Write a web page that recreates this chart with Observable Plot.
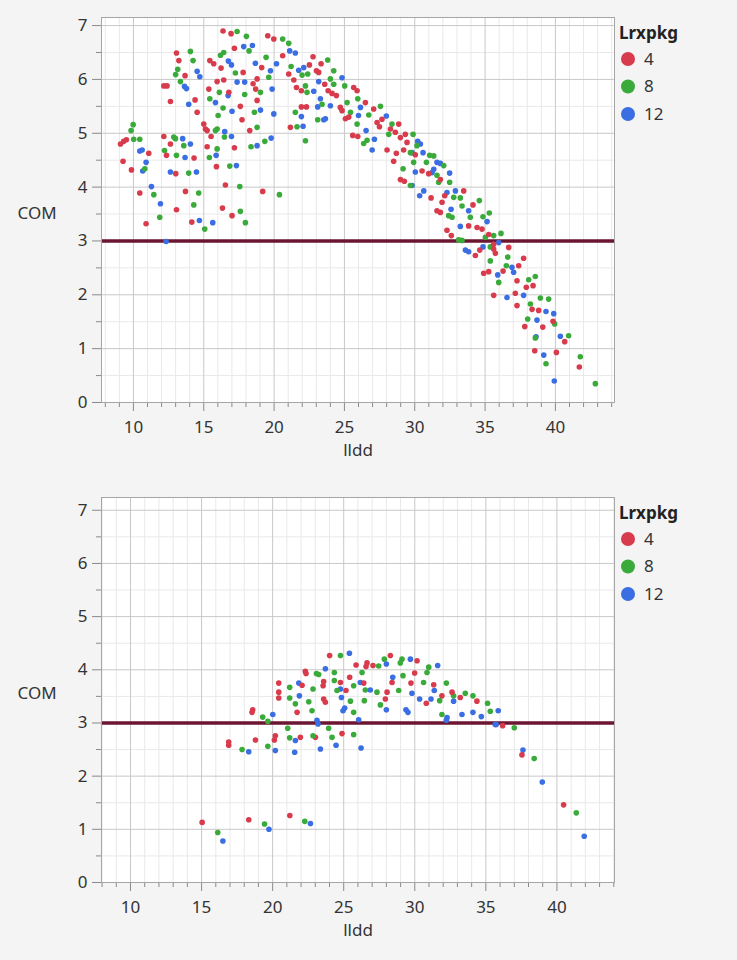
<!DOCTYPE html>
<html>
<head>
<meta charset="utf-8">
<script src="https://cdn.jsdelivr.net/npm/d3@7"></script>
<script src="https://cdn.jsdelivr.net/npm/@observablehq/plot@0.6"></script>
<style>
  html, body { margin: 0; padding: 0; background: #f4f4f4; }
  body { width: 737px; height: 960px; overflow: hidden; font-family: "Segoe UI", "Noto Sans", sans-serif; }
  .panel { position: relative; width: 737px; height: 480px; }
  .panel svg.plot { display: block; }
  .legend { position: absolute; left: 615px; top: 0; }
</style>
</head>
<body>
<div id="top" class="panel"></div>
<div id="bottom" class="panel"></div>
<script>
// ---------- categories / labels ----------
const groups = ["4", "8", "12"];
const groupColors = ["#d83b4b", "#3aab3a", "#3b6ee2"];
const legendTitle = "Lrxpkg";
const xLabel = "lldd";
const yLabel = "COM";
const xTicks = [10, 15, 20, 25, 30, 35, 40];
const yTicks = [0, 1, 2, 3, 4, 5, 6, 7];
const refLine = [3];

// ---------- top panel values: [lldd, COM] ----------
const top4 = [
[16.37,6.90],[16.94,6.85],[19.55,6.81],[19.98,6.75],[17.18,6.58],[13.06,6.49],[13.23,6.35],[15.43,6.35],[15.71,6.29],[16.23,6.21],
[13.67,6.07],[12.16,5.88],[12.39,5.88],[15.95,5.96],[16.42,5.99],[17.80,6.13],[15.36,5.82],[16.78,5.76],[18.51,5.92],[18.79,6.01],
[18.69,5.82],[19.12,6.22],[18.79,5.61],[12.63,5.59],[14.38,5.62],[14.53,5.39],[17.60,5.50],[17.72,5.25],[18.27,5.05],[15.00,5.17],
[15.12,5.08],[15.24,5.05],[15.52,4.94],[12.16,4.94],[12.63,4.80],[15.24,4.75],[17.18,4.73],[12.35,4.59],[14.31,4.54],[15.90,4.38],
[13.01,4.25],[16.54,4.04],[19.19,3.92],[13.70,3.92],[10.45,3.89],[13.06,3.58],[16.33,3.61],[17.01,3.47],[10.90,3.32],[14.15,3.35],
[9.08,4.80],[9.31,4.85],[9.50,4.88],[11.09,4.63],[9.26,4.48],[9.86,4.32],
[20.61,6.44],[22.77,6.42],[22.51,6.27],[23.34,6.29],[23.01,6.16],[23.17,6.13],[21.04,6.10],[21.40,5.99],[21.59,5.85],[21.94,5.79],
[23.60,5.91],[23.84,5.79],[24.12,5.74],[24.43,5.70],[21.94,5.49],[22.30,5.49],[21.16,5.11],[24.71,5.48],[24.83,5.42],[25.07,5.27],
[25.31,5.30],[25.66,5.85],[25.90,5.79],[26.49,5.57],[25.59,4.96],[25.95,4.94],[27.08,5.45],[27.32,5.20],[27.49,5.12],
[27.67,5.26],[28.86,5.17],[28.27,5.08],[28.62,5.02],[29.33,4.98],[28.98,4.92],[29.45,4.83],[28.03,4.69],[28.69,4.63],[29.21,4.69],
[30.04,4.60],[28.50,4.48],[30.52,4.30],[30.99,4.25],[28.98,4.14],[29.26,4.11],[31.82,4.14],[33.48,3.93],[32.13,3.84],[31.16,3.80],
[31.94,3.72],[34.14,3.67],[31.58,3.56],[31.82,3.53],[33.83,3.28],[34.43,3.25],[32.29,3.20],[32.60,3.10],[34.78,3.22],[35.26,3.12],
[35.61,2.94],[34.31,2.73],[34.62,2.83],[35.61,2.85],[36.68,2.88],[35.73,2.77],[37.74,2.68],[37.39,2.54],[36.28,2.44],[34.90,2.40],
[35.26,2.43],[37.93,2.14],[38.41,2.17],[37.27,2.26],[35.61,1.99],[37.15,2.03],[37.27,1.80],
[38.34,1.73],[38.81,1.71],[39.83,1.51],[37.82,1.41],[39.10,1.40],[40.66,1.13],[38.53,0.96],[40.07,0.93],[41.70,0.66]
];
const top8 = [
[17.37,6.89],[18.03,6.80],[18.22,6.53],[14.05,6.52],[14.24,6.35],[16.19,6.45],[16.42,6.50],[13.15,6.19],[13.00,6.09],[13.34,5.96],
[17.25,6.12],[17.91,5.72],[16.11,5.76],[19.03,5.76],[19.43,6.41],[19.62,6.04],[15.43,5.64],[16.02,5.33],[16.37,5.47],[18.60,5.39],
[18.79,5.11],[18.36,4.75],[19.34,4.85],[15.83,5.05],[15.95,5.08],[16.47,4.93],[12.87,4.93],[12.99,4.90],[13.58,4.77],[15.95,4.71],
[15.40,4.55],[12.21,4.68],[13.06,4.59],[16.85,4.39],[13.93,4.26],[17.56,4.01],[20.38,3.86],[14.64,3.89],[11.45,3.86],[14.29,3.67],
[17.60,3.55],[11.87,3.44],[17.96,3.34],[15.07,3.22],[9.83,5.05],[9.98,5.16],[10.02,4.89],[10.45,4.89],[10.81,4.34],
[20.61,6.75],[21.04,6.67],[21.21,6.24],[23.81,6.36],[22.39,6.10],[24.24,6.16],[21.99,6.08],[24.00,6.01],[22.23,5.88],[22.34,5.76],
[24.24,5.91],[25.02,5.88],[23.41,5.54],[21.51,5.39],[21.63,5.12],[23.10,5.25],[22.23,4.86],[25.19,5.57],[25.43,5.39],[25.95,5.64],
[25.90,5.17],[26.73,5.34],[27.56,5.50],[26.61,4.87],[26.37,4.81],
[28.38,5.17],[28.15,4.98],[29.88,4.98],[30.16,4.77],[29.69,4.64],[31.06,4.59],[31.35,4.58],[29.92,4.46],[30.83,4.46],[32.06,4.40],
[29.17,4.34],[31.58,4.22],[31.70,4.09],[32.48,4.09],[29.69,4.03],[32.77,3.81],[33.24,3.80],[34.59,3.75],[33.36,3.65],[32.41,3.47],
[32.65,3.44],[33.95,3.44],[34.85,3.45],[35.30,3.52],[33.12,3.02],[33.36,3.01],[35.02,3.07],[35.61,3.10],[36.13,3.14],[35.37,2.89],
[36.61,2.70],[35.37,2.63],[36.51,2.54],[38.10,2.28],[38.57,2.34],[35.97,2.23],[38.93,1.94],[39.52,1.92],[38.22,1.83],
[38.03,1.55],[39.95,1.46],[40.94,1.24],[38.57,1.20],[41.77,0.85],[39.33,0.72],[42.84,0.35]
];
const top12 = [
[17.84,6.61],[18.46,6.63],[16.75,6.34],[16.97,6.27],[14.53,6.15],[14.72,6.05],[13.63,5.87],[13.77,5.83],[17.37,5.95],[17.91,5.95],
[16.73,5.70],[18.67,6.30],[19.74,6.16],[19.86,5.82],[20.17,6.29],[13.93,5.54],[15.83,5.57],[17.01,5.41],[19.03,5.43],[19.98,5.36],
[18.79,4.77],[19.79,4.91],[16.49,5.03],[16.97,4.94],[13.50,4.90],[14.05,4.80],[15.88,4.59],[13.67,4.55],[17.32,4.40],[12.63,4.28],
[14.48,4.28],[11.28,4.01],[11.92,3.69],[14.69,3.38],[15.64,3.34],[10.45,4.67],[10.62,4.69],[10.90,4.46],[10.66,4.30],[12.32,2.99],
[21.11,6.53],[21.51,6.49],[22.11,6.22],[21.75,6.17],[24.83,6.03],[23.17,5.96],[22.82,5.78],[23.29,5.64],[23.10,5.49],[21.94,5.31],
[24.00,5.51],[22.06,5.13],[23.53,5.25],[23.65,5.27],[26.14,5.48],[26.00,5.33],[26.54,5.05],[27.13,4.89],[26.97,4.69],
[27.98,5.32],[30.21,4.85],[30.40,4.80],[29.81,4.64],[30.59,4.64],[31.58,4.46],[31.82,4.44],[30.04,4.28],[31.35,4.33],[31.23,4.27],
[32.48,4.26],[29.81,4.03],[30.64,3.93],[30.35,3.84],[32.29,3.90],[32.89,3.93],[32.58,3.59],[33.83,3.56],[35.14,3.36],[33.24,3.27],
[35.97,2.97],[33.60,2.83],[33.83,2.80],[34.85,2.89],[36.91,2.51],[37.03,2.42],[35.90,2.37],[36.56,1.95],[37.74,1.99],
[39.33,1.69],[39.88,1.65],[38.69,1.53],[38.62,1.22],[40.35,1.23],[39.17,0.88],[39.92,0.40]
];

// ---------- bottom panel values: [lldd, COM] ----------
const bot4 = [
[24.01,4.27],[22.30,3.97],[22.35,3.93],[25.87,4.09],[26.64,4.13],[27.06,4.08],[26.57,4.06],[28.28,4.27],[30.16,4.17],[29.99,3.94],
[20.43,3.75],[20.43,3.58],[20.43,3.47],[22.07,3.71],[21.72,3.20],[23.59,3.78],[23.55,3.70],[25.16,3.61],[24.77,3.76],[25.42,3.86],
[26.41,3.75],[28.05,3.58],[27.93,3.45],[28.40,3.76],[29.73,3.75],[31.33,3.72],[31.91,3.51],[32.62,3.58],[33.20,3.48],[34.37,3.41],
[30.81,3.37],[36.18,2.95],[23.59,3.45],[23.71,3.39],[18.60,3.25],[18.55,3.20],[18.79,2.68],[20.19,2.76],[20.12,2.68],[21.95,2.73],
[23.01,2.73],[24.88,2.80],[16.91,2.64],[16.91,2.58],
[15.04,1.13],[18.32,1.18],[21.21,1.26],[37.54,2.40],[40.47,1.46]
];
const bot8 = [
[24.77,4.27],[23.08,3.93],[23.24,3.91],[24.34,3.95],[26.29,3.95],[27.46,4.07],[27.86,4.20],[29.10,4.20],[28.98,4.13],[30.98,4.05],
[30.86,3.95],[21.20,3.67],[21.20,3.47],[21.60,3.36],[22.84,3.64],[24.34,3.80],[24.53,3.61],[25.70,3.70],[27.34,3.58],[26.45,3.42],
[29.17,3.89],[28.87,3.61],[30.62,3.76],[32.22,3.75],[32.73,3.51],[33.55,3.56],[34.09,3.51],[31.75,3.42],[35.12,3.37],[35.31,3.22],
[31.91,3.16],[22.54,3.40],[22.77,3.23],[25.70,3.20],[25.47,3.41],[26.52,3.62],[27.58,3.34],[19.30,3.11],[19.66,3.03],[21.06,2.90],
[23.94,2.90],[21.20,2.72],[22.84,2.76],[24.18,2.73],[25.70,2.78],[17.85,2.50],[19.66,2.56],
[16.14,0.94],[19.43,1.10],[22.26,1.15],[37.00,2.91],[38.40,2.33],[41.36,1.31]
];
const bot12 = [
[25.40,4.31],[23.71,4.02],[28.00,4.11],[29.69,4.20],[31.61,4.08],[21.84,3.75],[21.88,3.51],[24.77,3.64],[26.17,3.76],[26.87,3.62],
[28.45,3.86],[29.80,3.56],[31.37,3.61],[32.73,3.41],[30.34,3.45],[31.14,3.45],[35.87,3.23],[34.09,3.20],[33.32,3.16],[34.68,3.12],
[32.27,3.10],[32.22,3.05],[35.73,2.97],[24.95,3.23],[25.07,3.28],[24.84,3.48],[28.00,3.25],[29.38,3.25],[29.52,3.20],[20.01,3.16],
[23.12,3.05],[23.19,2.98],[26.05,3.06],[21.60,2.67],[18.32,2.46],[20.19,2.48],[21.55,2.45],[23.36,2.51],[24.46,2.58],[26.22,2.53],
[16.50,0.78],[19.74,1.00],[22.66,1.11],[35.66,2.97],[37.61,2.49],[38.97,1.89],[41.92,0.87]
];

// ---------- build rows (interleaved like a data table) ----------
function rows(series) {
  const out = [];
  const n = d3.max(series, s => s.length);
  for (let i = 0; i < n; i++) {
    series.forEach((s, k) => { if (i < s.length) out.push({lldd: s[i][0], COM: s[i][1], g: groups[k]}); });
  }
  return out;
}

function panel(id, data, xDomain, yDomain) {
  const xMinor = d3.range(8, 45).filter(v => v >= xDomain[0] && v <= xDomain[1] && !xTicks.includes(v));
  const yMinor = d3.range(0.5, 7.5, 1);
  const tickColor = "#8a8a8a";
  const fmt = d3.format("d");
  const plot = Plot.plot({
    width: 737,
    height: 480,
    marginLeft: 101,
    marginRight: 123,
    marginTop: 17,
    marginBottom: 78,
    style: {background: "transparent", fontFamily: "'Segoe UI', 'Noto Sans', sans-serif", fontSize: "17px", color: "#333"},
    x: {domain: xDomain, label: null},
    y: {domain: yDomain, label: null},
    color: {domain: groups, range: groupColors},
    marks: [
      Plot.frame({fill: "white", stroke: null}),
      Plot.gridX(xMinor, {stroke: "#e9e9e9", strokeOpacity: 1}),
      Plot.gridY(yMinor, {stroke: "#e9e9e9", strokeOpacity: 1}),
      Plot.gridX(xTicks, {stroke: "#c8c8c8", strokeOpacity: 1}),
      Plot.gridY(yTicks, {stroke: "#c8c8c8", strokeOpacity: 1}),
      Plot.axisX(xMinor, {tickSize: 5, tickFormat: () => "", stroke: tickColor}),
      Plot.axisX(xTicks, {tickSize: 9, tickPadding: 9, tickFormat: fmt, stroke: tickColor, fill: "#333"}),
      Plot.axisY(yMinor, {tickSize: 5, tickFormat: () => "", stroke: tickColor}),
      Plot.axisY(yTicks, {tickSize: 9, tickPadding: 5, tickFormat: fmt, stroke: tickColor, fill: "#333"}),
      Plot.ruleY(refLine, {stroke: "#6b1530", strokeWidth: 3.5}),
      Plot.dot(data, {x: "lldd", y: "COM", fill: "g", r: 2.8, stroke: null}),
      Plot.frame({stroke: "#a6a6a6"}),
      Plot.text([yLabel], {frameAnchor: "left", dx: -84, dy: 4, textAnchor: "start", fill: "#333"}),
      Plot.text([xLabel], {frameAnchor: "bottom", dy: 53, fill: "#333"})
    ]
  });
  plot.classList.add("plot");
  const host = document.getElementById(id);
  host.appendChild(plot);

  // legend
  const lg = d3.create("svg").attr("class", "legend").attr("width", 122).attr("height", 130)
    .style("font-family", "'Segoe UI', 'Noto Sans', sans-serif").style("font-size", "17px");
  lg.append("text").attr("x", 4).attr("y", 33).attr("dy", "0.35em").attr("font-weight", "bold").attr("fill", "#222").text(legendTitle);
  groups.forEach((g, i) => {
    const cy = 59 + i * 27.5;
    lg.append("circle").attr("cx", 13).attr("cy", cy).attr("r", 7).attr("fill", groupColors[i]);
    lg.append("text").attr("x", 29).attr("y", cy).attr("dy", "0.35em").attr("fill", "#333").text(g);
  });
  host.appendChild(lg.node());
}

panel("top", rows([top4, top8, top12]), [7.73, 44.2], [0, 7.15]);
panel("bottom", rows([bot4, bot8, bot12]), [7.96, 44.05], [0, 7.24]);
</script>
</body>
</html>
